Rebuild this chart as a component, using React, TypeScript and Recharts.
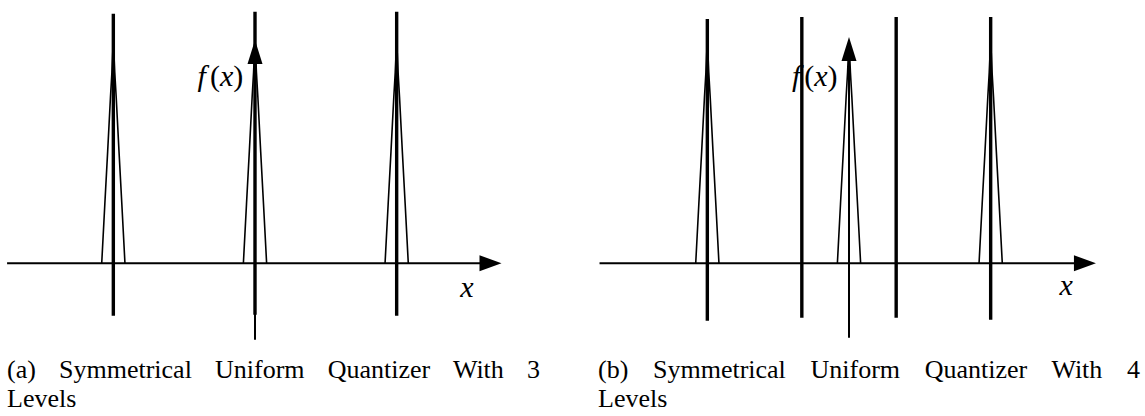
import React from 'react';
import { ComposedChart, XAxis, YAxis, Line, ReferenceLine, ReferenceDot } from 'recharts';

// Peak profile (offset from centre, relative height)
const peakOffsets = [-0.082, -0.06, -0.04, -0.02, -0.01, -0.004, 0, 0.004, 0.01, 0.02, 0.04, 0.06, 0.082];
const peakProfile = [0, 0.27, 0.51, 0.76, 0.87, 0.96, 1, 0.96, 0.87, 0.76, 0.51, 0.27, 0];

// Panel (a): 3 levels
const peakCentersA = [-1, 0, 1];
const levelsA = [-1, 0, 1];
const levelTopA = [1.137, 1.146, 1.146];
const levelBottomA = [-0.239, -0.235, -0.239];
const xAxisA = [-1.75, 1.74];
const yAxisA = [-0.349, 1.018];
const fxLabelA = [-0.244, 0.86];
const xLabelA = [1.496, -0.108];

// Panel (b): 4 levels
const peakCentersB = [-1, 0, 1];
const levelsB = [-1, -0.333, 0.333, 1];
const levelTopB = [1.113, 1.123, 1.123, 1.123];
const levelBottomB = [-0.262, -0.249, -0.249, -0.258];
const xAxisB = [-1.761, 1.743];
const yAxisB = [-0.34, 1.031];
const fxLabelB = [-0.242, 0.86];
const xLabelB = [1.533, -0.099];

const captionA = ['(a)  Symmetrical Uniform Quantizer With 3', 'Levels'];
const captionB = ['(b)  Symmetrical Uniform Quantizer With 4', 'Levels'];

const X_DOMAIN: [number, number] = [-1.8, 1.8];
const Y_DOMAIN: [number, number] = [-0.4, 1.2];

const buildPeakRows = (centers: number[]) => {
  const rows: Record<string, number>[] = [];
  centers.forEach((c, k) => {
    peakOffsets.forEach((d, i) => {
      rows.push({ x: c + d, ['p' + k]: peakProfile[i] });
    });
  });
  return rows;
};

const arrowShape = (head: number, half: number, sw: number) => (props: any) => {
  const { x1, y1, x2, y2 } = props;
  const dx = x2 - x1;
  const dy = y2 - y1;
  const len = Math.hypot(dx, dy) || 1;
  const ux = dx / len;
  const uy = dy / len;
  const bx = x2 - ux * head;
  const by = y2 - uy * head;
  const px = -uy;
  const py = ux;
  return (
    <g>
      <line x1={x1} y1={y1} x2={bx + ux * 2} y2={by + uy * 2} stroke="#000" strokeWidth={sw} />
      <polygon
        points={`${x2},${y2} ${bx + px * half},${by + py * half} ${bx - px * half},${by - py * half}`}
        fill="#000"
      />
    </g>
  );
};

const serif = 'Liberation Serif, Times New Roman, DejaVu Serif, serif';
const textStyle: React.CSSProperties = { fontFamily: serif, fontSize: 30 };

const fxShape = (p: any) => (
  <text x={p.cx} y={p.cy} textAnchor="middle" dominantBaseline="central" style={textStyle} fill="#000">
    <tspan style={{ fontStyle: 'italic' }}>f</tspan>
    <tspan dx={4}>(</tspan>
    <tspan style={{ fontStyle: 'italic' }}>x</tspan>
    <tspan>)</tspan>
  </text>
);

const xShape = (p: any) => (
  <text x={p.cx} y={p.cy} textAnchor="middle" dominantBaseline="central" style={{ ...textStyle, fontStyle: 'italic' }} fill="#000">
    x
  </text>
);

type PanelProps = {
  centers: number[];
  levels: number[];
  tops: number[];
  bottoms: number[];
  xAxis: number[];
  yAxis: number[];
  fx: number[];
  xl: number[];
};

const Panel = ({ centers, levels, tops, bottoms, xAxis, yAxis, fx, xl }: PanelProps) => (
  <ComposedChart width={510} height={351} data={buildPeakRows(centers)} margin={{ top: 0, right: 0, bottom: 0, left: 0 }}>
    <XAxis dataKey="x" type="number" domain={X_DOMAIN} hide allowDataOverflow />
    <YAxis type="number" domain={Y_DOMAIN} hide allowDataOverflow />
    <ReferenceDot x={fx[0]} y={fx[1]} r={0} shape={fxShape} />
    <ReferenceDot x={xl[0]} y={xl[1]} r={0} shape={xShape} />
    {centers.map((_c, k) => (
      <Line
        key={'p' + k}
        dataKey={'p' + k}
        type="linear"
        stroke="#000"
        strokeWidth={1.6}
        dot={false}
        activeDot={false}
        connectNulls={false}
        isAnimationActive={false}
      />
    ))}
    <ReferenceLine
      segment={[{ x: 0, y: yAxis[0] }, { x: 0, y: yAxis[1] }]}
      shape={arrowShape(24, 7.5, 2)}
    />
    {levels.map((l, k) => (
      <ReferenceLine
        key={'l' + k}
        segment={[{ x: l, y: bottoms[k] }, { x: l, y: tops[k] }]}
        stroke="#000"
        strokeWidth={3.4}
      />
    ))}
    <ReferenceLine
      segment={[{ x: xAxis[0], y: 0 }, { x: xAxis[1], y: 0 }]}
      shape={arrowShape(22, 8, 2)}
    />
  </ComposedChart>
);

const captionStyle: React.CSSProperties = {
  position: 'absolute',
  top: 355,
  fontFamily: serif,
  fontSize: 26,
  lineHeight: '29px',
  color: '#000',
};

export default function App() {
  return (
    <div style={{ position: 'absolute', left: 0, top: 0, width: 1145, height: 416, background: '#fff', overflow: 'hidden' }}>
      <div style={{ position: 'absolute', left: 0, top: 0 }}>
        <Panel centers={peakCentersA} levels={levelsA} tops={levelTopA} bottoms={levelBottomA} xAxis={xAxisA} yAxis={yAxisA} fx={fxLabelA} xl={xLabelA} />
      </div>
      <div style={{ position: 'absolute', left: 594, top: 0 }}>
        <Panel centers={peakCentersB} levels={levelsB} tops={levelTopB} bottoms={levelBottomB} xAxis={xAxisB} yAxis={yAxisB} fx={fxLabelB} xl={xLabelB} />
      </div>
      <div style={{ ...captionStyle, left: 7, width: 533 }}>
        <div style={{ textAlign: 'justify', textAlignLast: 'justify' }}>{captionA[0]}</div>
        <div>{captionA[1]}</div>
      </div>
      <div style={{ ...captionStyle, left: 598, width: 542 }}>
        <div style={{ textAlign: 'justify', textAlignLast: 'justify' }}>{captionB[0]}</div>
        <div>{captionB[1]}</div>
      </div>
    </div>
  );
}
